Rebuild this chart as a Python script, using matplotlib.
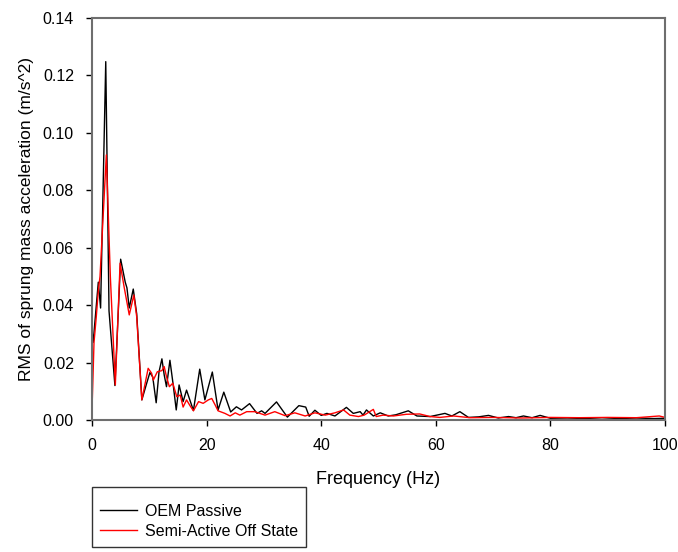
import matplotlib
matplotlib.use("Agg")
import matplotlib.pyplot as plt

# === DATA ===
oem_freq = [0, 0.2, 1.1, 1.5, 2.4, 2.97, 4.0, 5.0, 5.8, 6.1, 6.5, 7.2, 7.8, 8.7,
            9.5, 10.1, 10.6, 11.2, 11.7, 12.2, 12.6, 13.0, 13.6, 14.2, 14.7, 15.2,
            15.9, 16.5, 17.7, 18.8, 19.7, 21.0, 22.0, 23.0, 24.2, 25.2, 26.1, 27.5,
            28.8, 29.6, 30.2, 32.2, 34.1, 36.1, 37.3, 37.9, 38.9, 40.0, 41.0, 42.4,
            44.4, 45.6, 46.8, 47.3, 47.9, 49.1, 50.3, 51.7, 53.0, 55.2, 56.7, 59.0,
            61.6, 62.8, 64.2, 65.7, 67.5, 69.2, 70.9, 72.7, 74.0, 75.3, 76.8, 78.2,
            80.0, 83, 86, 89, 92, 95, 98, 100]
oem_rms = [0.031, 0.027, 0.048, 0.039, 0.1248, 0.038, 0.012, 0.056, 0.048, 0.046,
           0.039, 0.0456, 0.037, 0.007, 0.0125, 0.0165, 0.015, 0.006, 0.0168, 0.0213,
           0.0157, 0.0116, 0.0208, 0.0118, 0.0035, 0.0122, 0.0064, 0.0104, 0.0033,
           0.0177, 0.007, 0.0167, 0.0035, 0.0097, 0.0028, 0.0046, 0.0035, 0.0057,
           0.0023, 0.0032, 0.0023, 0.0063, 0.001, 0.005, 0.0045, 0.0013, 0.0034,
           0.0016, 0.0023, 0.0014, 0.0044, 0.0023, 0.0029, 0.0017, 0.0035, 0.0014,
           0.0025, 0.0014, 0.0018, 0.0032, 0.0014, 0.0012, 0.0023, 0.0014, 0.0029,
           0.0009, 0.0011, 0.0016, 0.0007, 0.0012, 0.0008, 0.0014, 0.0008, 0.0016,
           0.0006, 0.0007, 0.0005, 0.0008, 0.0005, 0.0007, 0.0005, 0.0006]

semi_freq = [0, 0.35, 0.75, 1.1, 1.4, 2.5, 3.2, 4.07, 4.9, 5.6, 6.5, 7.3, 7.8, 8.7,
             9.8, 10.4, 10.7, 11.4, 12.2, 12.6, 13.0, 13.5, 14.1, 14.8, 15.4, 15.9,
             16.5, 17.1, 17.7, 18.6, 19.4, 20.3, 20.9, 21.5, 22.0, 23.2, 24.1, 25.0,
             25.8, 27.0, 28.4, 30.2, 31.9, 33.7, 35.4, 37.2, 38.9, 40.7, 42.4, 43.9,
             45.0, 46.5, 47.5, 49.1, 49.6, 50.8, 52.6, 54.9, 57.2, 59.0, 60.7, 63.1,
             66, 70, 75, 80, 85, 90, 95, 99, 100]
semi_rms = [0.0035, 0.027, 0.036, 0.045, 0.05, 0.0923, 0.05, 0.0122, 0.0546, 0.0464,
            0.0366, 0.0435, 0.036, 0.007, 0.018, 0.0163, 0.0139, 0.0168, 0.0172,
            0.0186, 0.0151, 0.0116, 0.0128, 0.0081, 0.0087, 0.0045, 0.007, 0.005,
            0.0032, 0.0064, 0.0058, 0.007, 0.0075, 0.0052, 0.0032, 0.0023, 0.0014,
            0.0025, 0.0017, 0.0029, 0.0029, 0.0017, 0.0029, 0.0015, 0.0025, 0.0014,
            0.0025, 0.0017, 0.0025, 0.0035, 0.0017, 0.0012, 0.0017, 0.0037, 0.0012,
            0.0017, 0.0014, 0.002, 0.0021, 0.0012, 0.0009, 0.0014, 0.0008, 0.0009,
            0.0007, 0.0009, 0.0008, 0.0009, 0.0008, 0.0014, 0.0009]

x_ticks = [0, 20, 40, 60, 80, 100]
y_ticks = [0.00, 0.02, 0.04, 0.06, 0.08, 0.10, 0.12, 0.14]

# === FIGURE ===
plt.rcParams['font.family'] = ['Liberation Sans', 'DejaVu Sans']
fig = plt.figure(figsize=(6.78, 5.52), dpi=100)
ax = fig.add_axes([92 / 678, 1 - 420 / 552, (665 - 92) / 678, (420 - 18) / 552])

ax.plot(oem_freq, oem_rms, color='black', lw=1.0, label='OEM Passive')
ax.plot(semi_freq, semi_rms, color='red', lw=1.0, label='Semi-Active Off State')

ax.set_xlim(0, 100)
ax.set_ylim(0, 0.14)
ax.set_xticks(x_ticks)
ax.set_yticks(y_ticks)
ax.set_yticklabels([f"{v:.2f}" for v in y_ticks])
ax.tick_params(direction='out', length=4, width=1, labelsize=11.5, pad=9)
for sp in ax.spines.values():
    sp.set_color('#6e6e6e')
    sp.set_linewidth(1.5)

ax.set_xlabel("Frequency (Hz)", fontsize=13, labelpad=13)
ax.set_ylabel("RMS of sprung mass acceleration (m/s^2)", fontsize=12.5, labelpad=6)

# legend sits below the plot, its box running off the bottom edge
leg = fig.legend(loc='upper left', bbox_to_anchor=(92 / 678, 1 - 487 / 552),
                 fontsize=11.5, frameon=True, fancybox=False, borderpad=0.5,
                 handlelength=2.3, handletextpad=0.5, labelspacing=0.3,
                 borderaxespad=0, title=' ', title_fontsize=3)
leg.get_frame().set_edgecolor('black')
leg.get_frame().set_linewidth(1.0)

fig.savefig("out.png", dpi=100)
